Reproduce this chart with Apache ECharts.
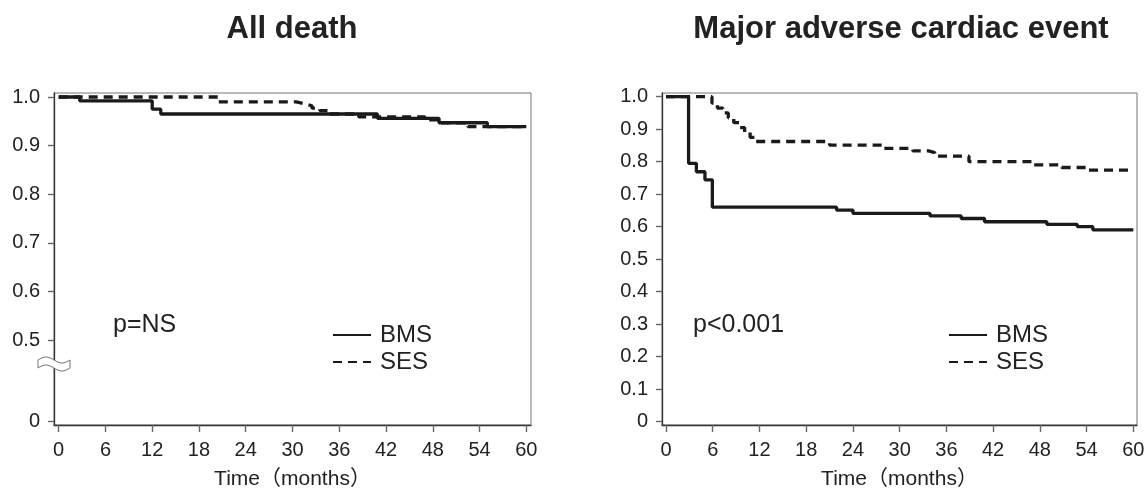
<!DOCTYPE html>
<html>
<head>
<meta charset="utf-8">
<script src="https://cdn.jsdelivr.net/npm/echarts@6/dist/echarts.min.js"></script>
<style>
  html, body { margin: 0; padding: 0; background: #fff; }
  #main { width: 1145px; height: 491px; }
</style>
</head>
<body>
<div id="main"></div>
<script>
// months / survival
const deathBmsT = [0, 2.7, 12.0, 13.1, 40.9, 48.8, 55.0, 60]
const deathBmsS = [1.0, 0.992, 0.975, 0.965, 0.956, 0.947, 0.939, 0.939]
const deathSesT = [0, 20.5, 30.5, 31.5, 32.5, 33.5, 34.5, 38.5, 47.0, 49.0, 52.5, 60]
const deathSesS = [1.0, 0.99, 0.986, 0.982, 0.977, 0.972, 0.965, 0.959, 0.953, 0.947, 0.939, 0.939]

const maceBmsT = [0, 2.9, 3.9, 5.0, 5.95, 21.9, 24.0, 33.9, 37.9, 40.9, 48.9, 52.8, 54.8, 60]
const maceBmsS = [1.0, 0.795, 0.769, 0.744, 0.66, 0.651, 0.641, 0.633, 0.625, 0.615, 0.607, 0.600, 0.590, 0.590]
const maceSesT = [0, 5.9, 6.6, 7.3, 8.0, 8.7, 9.4, 10.1, 10.8, 11.5, 21.0, 27.9, 31.7, 33.7, 34.5, 38.9, 47.1, 50.8, 54.2, 60]
const maceSesS = [1.0, 0.98, 0.965, 0.95, 0.935, 0.92, 0.905, 0.89, 0.875, 0.862, 0.851, 0.841, 0.833, 0.828, 0.817, 0.80, 0.79, 0.782, 0.774, 0.774]

const monthTicks = [0, 6, 12, 18, 24, 30, 36, 42, 48, 54, 60]
// left panel axis is broken below 0.5, its "0" sits where 1/3 would be
const deathTicks = [0.3333, 0.5, 0.6, 0.7, 0.8, 0.9, 1.0]
const maceTicks = [0, 0.1, 0.2, 0.3, 0.4, 0.5, 0.6, 0.7, 0.8, 0.9, 1.0]

const groups = ['BMS', 'SES']
const titles = ['All death', 'Major adverse cardiac event']
const pTexts = ['p=NS', 'p<0.001']

const FONT = '"Liberation Sans", Arial, Helvetica, sans-serif'
const INK = '#1a1a1a'

const zip = (t, s) => t.map((v, i) => [v, s[i]])

const chart = echarts.init(document.getElementById('main'))

function xAxisOf(idx, min, max) {
  return {
    type: 'value', gridIndex: idx, min: min, max: max,
    name: 'Time（months）', nameLocation: 'middle', nameGap: 44,
    nameTextStyle: { fontSize: 21, color: '#222', fontFamily: '"Liberation Sans", "Noto Sans CJK JP", sans-serif' },
    axisLine: { show: true, onZero: false, lineStyle: { color: '#333', width: 1.3 } },
    axisTick: { show: true, length: 7, customValues: monthTicks, lineStyle: { color: '#666', width: 1.4 } },
    axisLabel: { customValues: monthTicks, margin: 15, fontSize: 20, color: '#222', fontFamily: FONT },
    splitLine: { show: false }
  }
}

function yAxisOf(idx, min, max, ticks) {
  return {
    type: 'value', gridIndex: idx, min: min, max: max,
    axisLine: { show: true, onZero: false, lineStyle: { color: '#333', width: 1.3 } },
    axisTick: { show: true, length: 6, customValues: ticks, lineStyle: { color: '#666', width: 1.4 } },
    axisLabel: {
      customValues: ticks, margin: 14, fontSize: 20, color: '#222', fontFamily: FONT,
      formatter: v => (v < 0.4 && idx === 0) || v === 0 ? '0' : v.toFixed(1)
    },
    splitLine: { show: false }
  }
}

function km(name, idx, t, s) {
  return {
    name: name, type: 'line', step: 'end', xAxisIndex: idx, yAxisIndex: idx,
    symbol: 'none', data: zip(t, s),
    lineStyle: { color: INK, width: 3.3, type: name === 'SES' ? [9, 6] : 'solid', cap: 'butt' },
    itemStyle: { color: INK },
    emphasis: { disabled: true }
  }
}

// little wavy break mark on the left y axis
const brk = []
for (let i = 0; i <= 16; i++) {
  const x = 38 + i * 2
  brk.push([x, 360 - 3 * Math.sin(2 * Math.PI * (x - 38) / 32)])
}
for (let i = 16; i >= 0; i--) {
  const x = 38 + i * 2
  brk.push([x, 368 - 3 * Math.sin(2 * Math.PI * (x - 38) / 32)])
}

const legendOf = left => ({
  data: groups, orient: 'vertical', left: left, top: 318, itemWidth: 38, itemHeight: 14, itemGap: 3,
  selectedMode: false, itemStyle: { opacity: 0 },
  textStyle: { fontSize: 24, color: '#222', fontFamily: FONT, padding: [0, 0, 0, 4] }
})

chart.setOption({
  animation: false,
  backgroundColor: '#fff',
  title: [
    { text: titles[0], left: 287, top: 9, textAlign: 'center',
      textStyle: { fontSize: 31, fontWeight: 'bold', color: '#222', fontFamily: FONT } },
    { text: titles[1], left: 896, top: 9, textAlign: 'center',
      textStyle: { fontSize: 31, fontWeight: 'bold', color: '#222', fontFamily: FONT } }
  ],
  grid: [
    { left: 54, top: 93, width: 477, height: 332, show: true, borderColor: '#777', borderWidth: 1,
      containLabel: false, outerBoundsMode: 'none' },
    { left: 662, top: 93, width: 475, height: 332, show: true, borderColor: '#777', borderWidth: 1,
      containLabel: false, outerBoundsMode: 'none' }
  ],
  xAxis: [xAxisOf(0, -0.6, 60.6), xAxisOf(1, -0.514, 60.475)],
  yAxis: [yAxisOf(0, 0.3251, 1.0082, deathTicks), yAxisOf(1, -0.0108, 1.0114, maceTicks)],
  legend: [legendOf(327), legendOf(943)],
  graphic: [
    { type: 'text', left: 113, top: 313, z: 50,
      style: { text: pTexts[0], fontSize: 25, fill: '#222', fontFamily: FONT } },
    { type: 'text', left: 693, top: 313, z: 50,
      style: { text: pTexts[1], fontSize: 25, fill: '#222', fontFamily: FONT } },
    { type: 'polygon', z: 100, shape: { points: brk },
      style: { fill: '#fff', stroke: '#777', lineWidth: 1 } }
  ],
  series: [
    km('BMS', 0, deathBmsT, deathBmsS),
    km('SES', 0, deathSesT, deathSesS),
    km('BMS', 1, maceBmsT, maceBmsS),
    km('SES', 1, maceSesT, maceSesS)
  ]
})
</script>
</body>
</html>
